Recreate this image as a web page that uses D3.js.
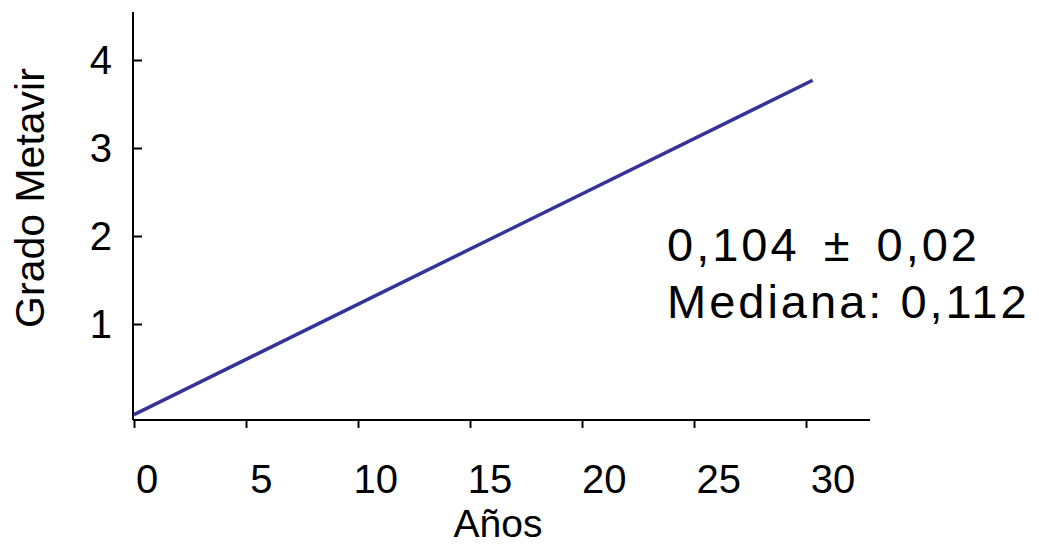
<!DOCTYPE html>
<html>
<head>
<meta charset="utf-8">
<script src="https://cdn.jsdelivr.net/npm/d3@7"></script>
<style>
  body { margin: 0; background: #fff; }
  text { font-family: "Liberation Sans", Arial, sans-serif; fill: #000; }
</style>
</head>
<body>
<div id="chart"></div>
<script>
var years = [0, 30.3];
var grade = [-0.03, 3.77];
var xTicks = [0, 5, 10, 15, 20, 25, 30];
var yTicks = [1, 2, 3, 4];
var notes = ["0,104 \u00b1 0,02", "Mediana: 0,112"];

var width = 1039, height = 544;

var svg = d3.select("#chart")
            .append("svg")
            .attr("width", width)
            .attr("height", height);

var x = d3.scaleLinear().domain([0, 30]).range([134, 806]);
var y = d3.scaleLinear().domain([0, 4]).range([412, 60]);
// tick labels sit a little to the right of their ticks in the original
var xLab = d3.scaleLinear().domain([0, 30]).range([147, 833]);

var x0 = x(0) - 1, yBottom = y(-0.09), yTop = y(4.545), xRight = x(32.86);

// axis lines
svg.append("line")
   .attr("x1", x0).attr("x2", x0)
   .attr("y1", yTop).attr("y2", yBottom)
   .attr("stroke", "#000").attr("stroke-width", 2);
svg.append("line")
   .attr("x1", x0).attr("x2", xRight)
   .attr("y1", yBottom).attr("y2", yBottom)
   .attr("stroke", "#000").attr("stroke-width", 2);

// ticks
var gx = svg.append("g")
   .attr("transform", "translate(0," + yBottom + ")")
   .call(d3.axisBottom(x).tickValues(xTicks).tickSize(8).tickFormat(""));
gx.select(".domain").remove();
gx.selectAll("line").attr("stroke", "#000").attr("stroke-width", 2);

var gy = svg.append("g")
   .attr("transform", "translate(" + x0 + ",0)")
   .call(d3.axisRight(y).tickValues(yTicks).tickSize(9).tickFormat(""));
gy.select(".domain").remove();
gy.selectAll("line").attr("stroke", "#000").attr("stroke-width", 2);

// tick labels
svg.append("g").selectAll("text")
   .data(xTicks)
   .enter().append("text")
   .attr("x", d => xLab(d))
   .attr("y", 493)
   .attr("text-anchor", "middle")
   .style("font-size", "40px")
   .text(d => d);

svg.append("g").selectAll("text")
   .data(yTicks)
   .enter().append("text")
   .attr("x", 112)
   .attr("y", d => y(d))
   .attr("dy", "0.36em")
   .attr("text-anchor", "end")
   .style("font-size", "40px")
   .text(d => d);

// titles
svg.append("text")
   .attr("x", 498).attr("y", 537)
   .attr("text-anchor", "middle")
   .style("font-size", "39px")
   .text("Años");

svg.append("text")
   .attr("transform", "translate(44,198) rotate(-90)")
   .attr("text-anchor", "middle")
   .style("font-size", "41px")
   .text("Grado Metavir");

// regression line
var line = d3.line().x(d => x(d[0])).y(d => y(d[1]));
svg.append("path")
   .datum(d3.zip(years, grade))
   .attr("d", line)
   .attr("fill", "none")
   .attr("stroke", "#333399")
   .attr("stroke-width", 3.5);

// annotation
svg.append("g").selectAll("text")
   .data(notes)
   .enter().append("text")
   .attr("x", 667)
   .attr("y", (d, i) => 261 + i * 57)
   .style("font-size", "47px")
   .style("letter-spacing", "3px")
   .style("word-spacing", (d, i) => i === 0 ? "8px" : "0px")
   .text(d => d);
</script>
</body>
</html>
